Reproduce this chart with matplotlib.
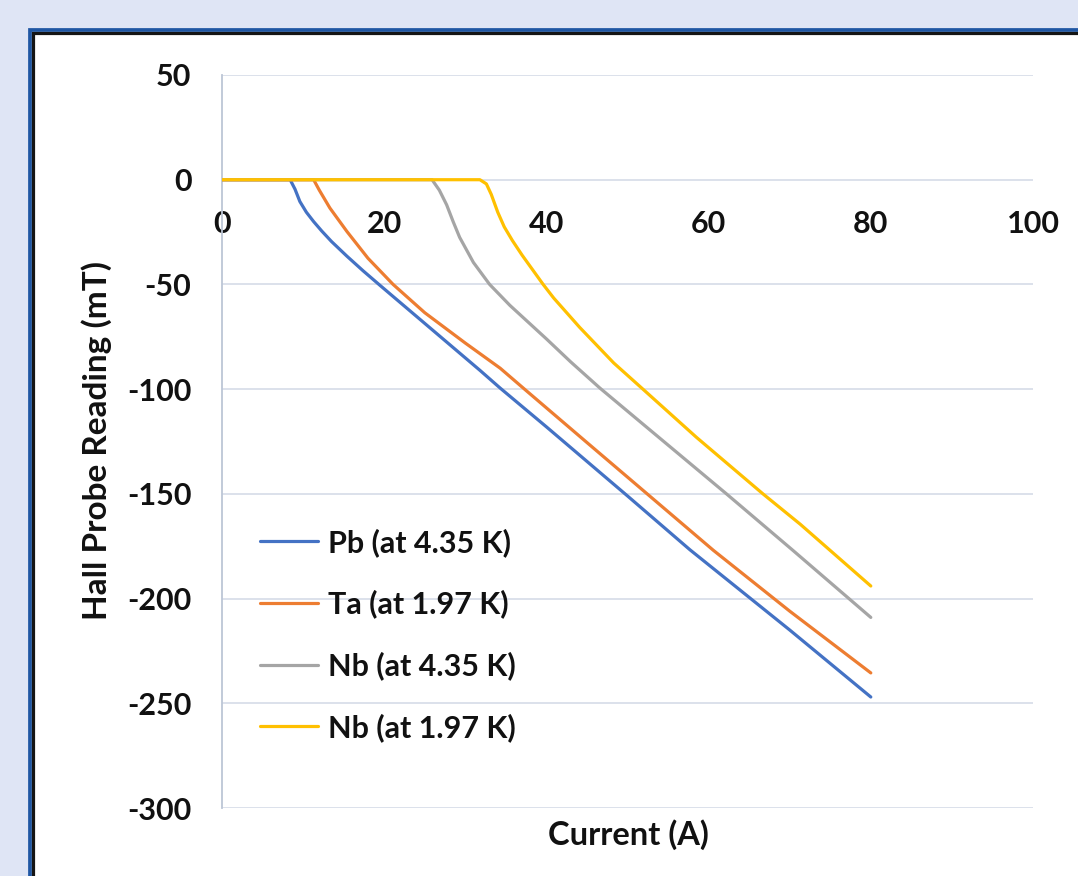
import matplotlib
matplotlib.use("Agg")
import matplotlib.pyplot as plt
from matplotlib.patches import Rectangle

# ---- data ----
pb_x = [0, 5, 8.4, 9.0, 9.6, 10.4, 11.3, 12.3, 13.5, 15.4, 17.4, 19.5, 23.6, 27.7, 31.8, 34.3, 40, 50, 57.7, 70, 80]
pb_y = [0, 0, 0, -4.5, -10.4, -15.5, -20, -24.5, -29.5, -36.5, -43.5, -50.5, -64, -77.5, -91, -99.5, -118, -151, -176.7, -215, -247]

ta_x = [0, 5, 11.3, 12.0, 13.3, 15.4, 18, 21.1, 25, 30, 34.3, 37.3, 45, 50, 60.6, 70, 80]
ta_y = [0, 0, 0, -5, -13.5, -24.7, -37.5, -50, -63.5, -78, -90, -100, -125.5, -142, -177, -206, -235.5]

nb435_x = [0, 10, 20, 25.9, 26.8, 27.7, 28.5, 29.3, 31, 33, 35.5, 40, 43, 46.6, 52, 62.2, 70.4, 80]
nb435_y = [0, 0, 0, 0, -5, -12, -20, -27.5, -39.5, -50, -60, -76, -87, -99.5, -117, -150, -177, -209]

nb197_x = [0, 10, 20, 31.8, 32.6, 33.2, 34.0, 34.8, 35.8, 37, 38.3, 39.6, 40.9, 44.1, 48.3, 51.9, 58.5, 66.7, 71.3, 80]
nb197_y = [0, 0, 0, 0, -2, -7, -15.5, -22.5, -29, -36, -43, -50, -56.5, -70.5, -87.5, -100, -123, -150, -164.5, -194]

series_labels = ["Pb (at 4.35 K)", "Ta (at 1.97 K)", "Nb (at 4.35 K)", "Nb (at 1.97 K)"]
series_colors = ["#4472C4", "#ED7D31", "#A5A5A5", "#FFC000"]

x_ticks = [0, 20, 40, 60, 80, 100]
y_ticks = [50, 0, -50, -100, -150, -200, -250, -300]

# ---- figure ----
plt.rcParams['font.family'] = ['Lato', 'DejaVu Sans']
plt.rcParams['font.weight'] = 'bold'
plt.rcParams['axes.unicode_minus'] = False
W, H = 1078, 876
FS = 22
fig = plt.figure(figsize=(W / 100, H / 100), dpi=100)
fig.patch.set_facecolor("#DFE5F5")

# panel with blue + black border
fig.patches.append(Rectangle((29.5 / W, -0.2), 1.3, 1.2 - 29.5 / H,
                             transform=fig.transFigure, facecolor="white",
                             edgecolor="#1F56A3", linewidth=2.7, zorder=-5))
fig.patches.append(Rectangle((32.8 / W, -0.2), 1.3, 1.2 - 32.8 / H,
                             transform=fig.transFigure, facecolor="none",
                             edgecolor="#151515", linewidth=2.3, zorder=-4))

ax = fig.add_axes([222 / W, 1 - 808 / H, (1033 - 222) / W, (808 - 75) / H])
ax.set_facecolor("none")
ax.set_zorder(2)

data = [(pb_x, pb_y), (ta_x, ta_y), (nb435_x, nb435_y), (nb197_x, nb197_y)]
for (xs, ys), lab, col in zip(data, series_labels, series_colors):
    ax.plot(xs, ys, color=col, lw=2.3, label=lab, solid_capstyle='round',
            solid_joinstyle='round', zorder=3)

ax.set_xlim(0, 100)
ax.set_ylim(-300, 50)
ax.set_xticks(x_ticks)
ax.set_yticks(y_ticks)
ax.grid(axis='y', color="#D9DEE9", lw=1.3, zorder=0)

for s in ['top', 'right']:
    ax.spines[s].set_visible(False)
ax.spines['left'].set_color("#BCC6D6")
ax.spines['left'].set_linewidth(1.3)
# x tick labels sit next to the zero line
ax.spines['bottom'].set_position(('data', 0))
ax.spines['bottom'].set_visible(False)

ax.tick_params(axis='x', length=0, pad=22, labelsize=FS, labelcolor="#111111")
ax.tick_params(axis='y', length=0, pad=22, labelsize=FS, labelcolor="#111111")
for lbl in ax.get_xticklabels() + ax.get_yticklabels():
    lbl.set_fontweight('bold')

fig.text(97 / W, 1 - 441 / H, "Hall Probe Reading (mT)", rotation=90,
         ha='center', va='center', fontsize=24, fontweight='bold', color="#111111")
fig.text(628 / W, 1 - 835 / H, "Current (A)", ha='center', va='center',
         fontsize=23.5, fontweight='bold', color="#111111")

leg = ax.legend(loc='upper left', bbox_to_anchor=((260 - 222) / 811, (808 - 528) / 733),
                frameon=False, fontsize=FS, handlelength=1.9, handletextpad=0.32,
                labelspacing=1.07, borderpad=0, borderaxespad=0)
for t in leg.get_texts():
    t.set_fontweight('bold')
    t.set_color("#111111")

fig.savefig("out.png", dpi=100, facecolor=fig.get_facecolor())
